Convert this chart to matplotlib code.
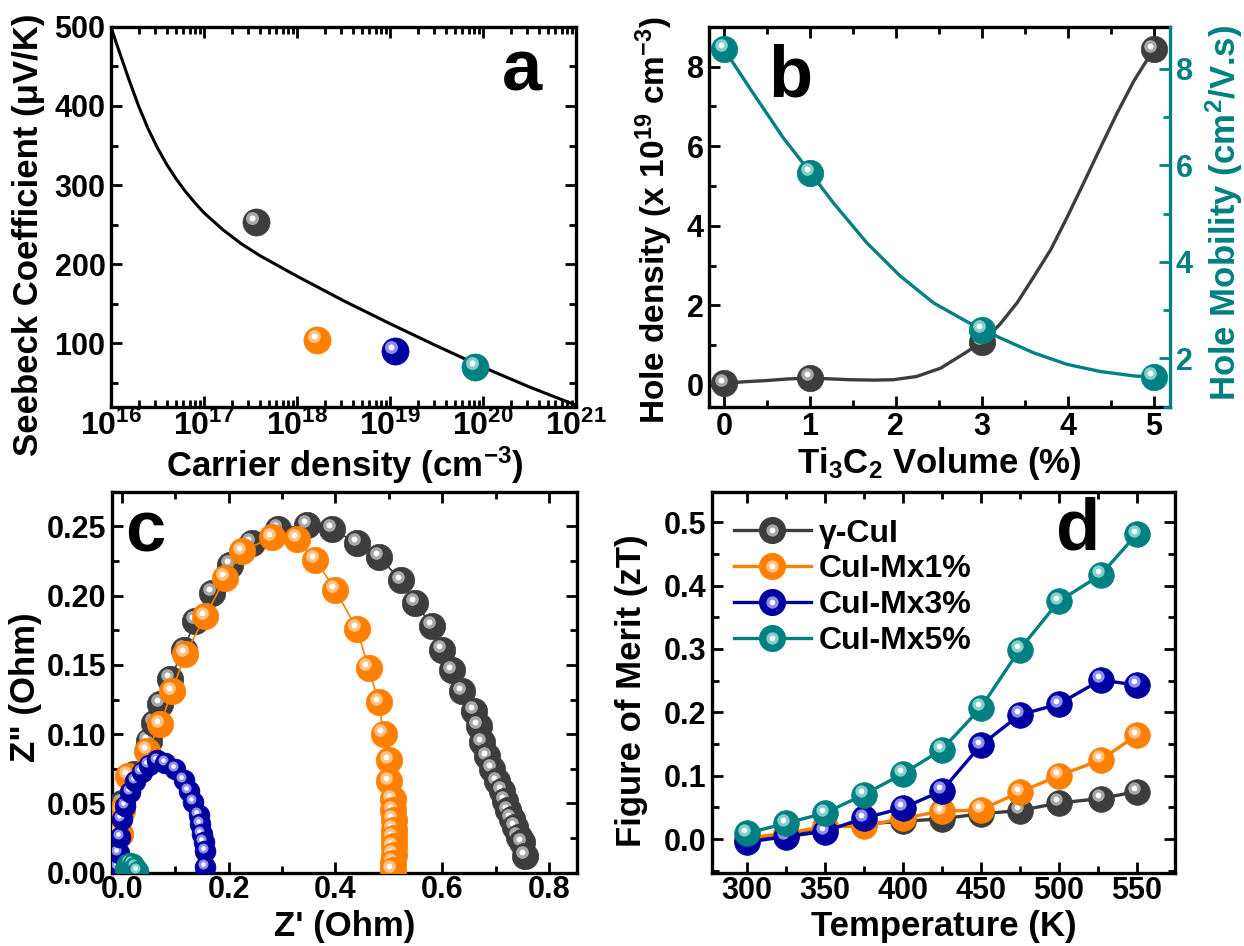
import matplotlib
matplotlib.use("Agg")
import matplotlib.pyplot as plt
from matplotlib.lines import Line2D
from matplotlib.legend_handler import HandlerTuple
from matplotlib.transforms import offset_copy
from matplotlib.ticker import MultipleLocator, LogLocator, NullFormatter, FixedLocator
import numpy as np

plt.rcParams['font.family'] = ['Liberation Sans', 'DejaVu Sans']
plt.rcParams['font.weight'] = 'bold'
plt.rcParams['axes.labelweight'] = 'bold'
plt.rcParams['mathtext.fontset'] = 'custom'
plt.rcParams['mathtext.rm'] = 'Liberation Sans:bold'
plt.rcParams['mathtext.bf'] = 'Liberation Sans:bold'
plt.rcParams['mathtext.it'] = 'Liberation Sans:bold:italic'
plt.rcParams['mathtext.default'] = 'bf'

GRAY, ORANGE, BLUE, TEAL = '#3d3d3d', '#ff8000', '#0000a0', '#008080'
HILITE = {GRAY: '#c4c4c4', ORANGE: '#ffd2a6', BLUE: '#b4b4ff', TEAL: '#a6e2e2'}

# ---- panel a : Seebeck vs carrier density ----
n_samples = [3.6e17, 1.65e18, 1.12e19, 8.3e19]
S_samples = [254, 104, 91, 70.5]
sample_colors = [GRAY, ORANGE, BLUE, TEAL]
# model curve (log10 of n, S)
curve_logn = [16.0, 16.05, 16.1, 16.2, 16.3, 16.4, 16.5, 16.6, 16.7, 16.8, 16.9,
              17.0, 17.2, 17.4, 17.6, 18.0, 18.5, 19.0, 19.5, 20.0, 20.5, 21.0]
curve_S = [500, 482, 465, 431, 399, 371, 347, 326, 308, 292, 278,
           265, 244, 226, 211, 185, 154, 125, 97, 70, 45, 22]

# ---- panel b : hole density / mobility vs Ti3C2 volume ----
vol = [0, 1, 3, 5]
hole_density = [0.04, 0.17, 1.09, 8.43]
hole_mobility = [8.41, 5.84, 2.60, 1.62]
dens_fit_x = [0, 0.25, 0.5, 0.75, 1.0, 1.25, 1.47, 1.75, 1.97, 2.24, 2.52, 2.79,
              3.01, 3.21, 3.41, 3.6, 3.8, 3.99, 4.18, 4.38, 4.57, 4.77, 5.0]
dens_fit_y = [0.04, 0.08, 0.11, 0.15, 0.17, 0.15, 0.13, 0.12, 0.13, 0.21, 0.42,
              0.78, 1.09, 1.52, 2.06, 2.70, 3.39, 4.20, 5.05, 5.96, 6.81, 7.64, 8.43]
mob_fit_x = [0, 0.30, 0.69, 1.01, 1.27, 1.66, 2.05, 2.44, 2.83, 3.01, 3.21, 3.6,
             3.99, 4.38, 4.77, 5.0]
mob_fit_y = [8.41, 7.60, 6.57, 5.84, 5.23, 4.40, 3.71, 3.15, 2.76, 2.60, 2.43,
             2.12, 1.88, 1.73, 1.64, 1.61]

# ---- panel c : Nyquist plots ----
zr_gray = [0.000, 0.022, 0.050, 0.060, 0.072, 0.090, 0.116, 0.137, 0.169, 0.203,
           0.243, 0.293, 0.347, 0.393, 0.440, 0.481, 0.523, 0.549, 0.581, 0.600,
           0.618, 0.637, 0.659, 0.668, 0.675, 0.684, 0.693, 0.703, 0.712, 0.718,
           0.724, 0.730, 0.737, 0.743, 0.749, 0.755]
zi_gray = [0.050, 0.071, 0.095, 0.108, 0.122, 0.140, 0.161, 0.182, 0.202, 0.222,
           0.238, 0.248, 0.251, 0.248, 0.238, 0.228, 0.211, 0.195, 0.178, 0.161,
           0.146, 0.131, 0.117, 0.106, 0.094, 0.084, 0.075, 0.066, 0.059, 0.052,
           0.045, 0.039, 0.033, 0.026, 0.022, 0.012]
zr_orange = [-0.004, 0.000, 0.012, 0.047, 0.072, 0.094, 0.119, 0.156, 0.194, 0.225,
             0.281, 0.328, 0.362, 0.400, 0.440, 0.462, 0.481, 0.490, 0.500, 0.500,
             0.507, 0.508, 0.509, 0.509, 0.509, 0.509, 0.509, 0.508, 0.507]
zi_orange = [0.028, 0.045, 0.070, 0.088, 0.107, 0.131, 0.158, 0.185, 0.213, 0.232,
             0.242, 0.241, 0.226, 0.204, 0.176, 0.148, 0.123, 0.100, 0.081, 0.066,
             0.053, 0.045, 0.038, 0.031, 0.025, 0.019, 0.013, 0.007, 0.002]
zr_blue = [-0.006, -0.006, -0.003, 0.000, 0.006, 0.016, 0.025, 0.037, 0.050, 0.066,
           0.081, 0.100, 0.116, 0.125, 0.134, 0.144, 0.147, 0.150, 0.153, 0.156, 0.156]
zi_blue = [0.004, 0.014, 0.026, 0.039, 0.048, 0.058, 0.066, 0.073, 0.078, 0.081,
           0.079, 0.075, 0.067, 0.059, 0.051, 0.042, 0.035, 0.028, 0.022, 0.016, 0.004]
zr_teal = [0.005, 0.010, 0.015, 0.020, 0.025, 0.030]
zi_teal = [0.003, 0.006, 0.007, 0.006, 0.004, 0.001]

# ---- panel d : zT vs temperature ----
temp = [300, 325, 350, 375, 400, 425, 450, 475, 500, 527, 550]
zt = {
    'γ-CuI':    [0.000, 0.007, 0.018, 0.024, 0.028, 0.032, 0.040, 0.045, 0.057, 0.064, 0.075],
    'CuI-Mx1%': [0.002, 0.009, 0.020, 0.020, 0.033, 0.044, 0.046, 0.074, 0.100, 0.125, 0.164],
    'CuI-Mx3%': [-0.005, 0.004, 0.012, 0.033, 0.049, 0.076, 0.148, 0.196, 0.213, 0.251, 0.243],
    'CuI-Mx5%': [0.009, 0.025, 0.041, 0.070, 0.103, 0.141, 0.207, 0.299, 0.375, 0.417, 0.481],
}
zt_colors = [GRAY, ORANGE, BLUE, TEAL]

TICK_FS = 22
LABEL_FS = 25


def balls(ax, x, y, color, ms, z=3):
    fig = ax.figure
    tr = offset_copy(ax.transData, fig=fig, x=-ms * 0.12, y=ms * 0.14, units='points')
    for i, (xi, yi) in enumerate(zip(x, y)):
        zz = z + i * 0.001
        ax.plot([xi], [yi], 'o', ms=ms, mfc=color, mec=color, mew=0.5, zorder=zz)
        ax.plot([xi], [yi], 'o', ms=ms * 0.48, mfc=HILITE[color], mec='none',
                alpha=0.8, transform=tr, zorder=zz + 0.0003)
        ax.plot([xi], [yi], 'o', ms=ms * 0.22, mfc='white', mec='none',
                transform=tr, zorder=zz + 0.0006)


def frame(ax, top=True, right=True):
    for s in ax.spines.values():
        s.set_linewidth(2.4)
    ax.tick_params(which='both', direction='in', width=2.0, top=top, right=right,
                   labelsize=TICK_FS, pad=4)
    ax.tick_params(which='major', length=8)
    ax.tick_params(which='minor', length=5)


fig = plt.figure(figsize=(12.44, 9.46), dpi=100)
axa = fig.add_axes([0.0892, 0.570, 0.3738, 0.4017])
axb = fig.add_axes([0.5702, 0.570, 0.3703, 0.4017])
axc = fig.add_axes([0.0898, 0.0775, 0.3743, 0.4027])
axd = fig.add_axes([0.5721, 0.0768, 0.3724, 0.4027])

# panel a
axa.plot(np.power(10.0, curve_logn), curve_S, color='black', lw=2.2, zorder=2)
for xn, ys, c in zip(n_samples, S_samples, sample_colors):
    balls(axa, [xn], [ys], c, 19.5)
axa.set_xscale('log')
axa.set_xlim(1e16, 1e21)
axa.set_ylim(20, 500)
axa.xaxis.set_major_locator(LogLocator(base=10, numticks=10))
axa.xaxis.set_minor_locator(LogLocator(base=10, subs=np.arange(2, 10), numticks=20))
axa.xaxis.set_minor_formatter(NullFormatter())
axa.yaxis.set_major_locator(MultipleLocator(100))
axa.yaxis.set_minor_locator(MultipleLocator(50))
frame(axa)
axa.tick_params(axis='x', which='major', labelsize=TICK_FS + 1, pad=3)
axa.set_ylabel('Seebeck Coefficient (μV/K)', fontsize=LABEL_FS)
axa.yaxis.set_label_coords(-0.142, 0.454)
axa.set_xlabel(r'Carrier density (cm$^{-3}$)', fontsize=LABEL_FS)
axa.xaxis.set_label_coords(0.503, -0.100)
axa.text(0.883, 0.833, 'a', transform=axa.transAxes, fontsize=52,
         fontweight='bold', ha='center', va='baseline')

# panel b
axb2 = axb.twinx()
axb.plot(dens_fit_x, dens_fit_y, color=GRAY, lw=2.4, zorder=2)
balls(axb, vol, hole_density, GRAY, 19)
axb2.plot(mob_fit_x, mob_fit_y, color=TEAL, lw=2.4, zorder=2)
balls(axb2, vol, hole_mobility, TEAL, 19)
axb.set_xlim(-0.17, 5.19)
axb.set_ylim(-0.55, 9.0)
axb2.set_ylim(1.0, 8.87)
axb.xaxis.set_major_locator(MultipleLocator(1))
axb.xaxis.set_minor_locator(MultipleLocator(0.5))
axb.yaxis.set_major_locator(MultipleLocator(2))
axb.yaxis.set_minor_locator(MultipleLocator(1))
axb2.yaxis.set_major_locator(FixedLocator([2, 4, 6, 8]))
axb2.yaxis.set_minor_locator(FixedLocator([1, 3, 5, 7]))
frame(axb, top=True, right=False)
axb.spines['right'].set_visible(False)
for s in axb2.spines.values():
    s.set_visible(False)
axb2.spines['right'].set_visible(True)
axb2.spines['right'].set_linewidth(2.4)
axb2.spines['right'].set_color(TEAL)
axb2.tick_params(which='both', direction='in', width=2.0, colors=TEAL,
                 labelsize=TICK_FS, pad=4)
axb2.tick_params(which='major', length=8)
axb2.tick_params(which='minor', length=5)
axb.set_ylabel(r'Hole density (x 10$^{19}$ cm$^{-3}$)', fontsize=24)
axb.yaxis.set_label_coords(-0.075, 0.49)
axb2.set_ylabel(r'Hole Mobility (cm$^{2}$/V.s)', fontsize=LABEL_FS, color=TEAL)
axb2.yaxis.set_label_coords(1.072, 0.51)
axb.set_xlabel(r'Ti$_{3}$C$_{2}$ Volume (%)', fontsize=LABEL_FS)
axb.xaxis.set_label_coords(0.5, -0.100)
axb.text(0.175, 0.816, 'b', transform=axb.transAxes, fontsize=52,
         fontweight='bold', ha='center', va='baseline')

# panel c
axc.plot(zr_gray, zi_gray, color=GRAY, lw=1.2, zorder=2)
balls(axc, zr_gray, zi_gray, GRAY, 19, z=3)
axc.plot(zr_orange, zi_orange, color=ORANGE, lw=1.2, zorder=4)
balls(axc, zr_orange, zi_orange, ORANGE, 19, z=5)
axc.plot(zr_blue, zi_blue, color=BLUE, lw=1.2, zorder=6)
balls(axc, zr_blue, zi_blue, BLUE, 15, z=7)
axc.plot(zr_teal, zi_teal, color=TEAL, lw=1.2, zorder=8)
balls(axc, zr_teal, zi_teal, TEAL, 15, z=9)
axc.set_xlim(-0.019, 0.853)
axc.set_ylim(0, 0.275)
axc.xaxis.set_major_locator(MultipleLocator(0.2))
axc.xaxis.set_minor_locator(MultipleLocator(0.1))
axc.yaxis.set_major_locator(MultipleLocator(0.05))
axc.yaxis.set_minor_locator(MultipleLocator(0.025))
axc.xaxis.set_major_formatter(lambda v, p: f'{v:.1f}')
axc.yaxis.set_major_formatter(lambda v, p: f'{v:.2f}')
frame(axc)
axc.tick_params(axis='x', pad=2)
axc.set_ylabel('Z" (Ohm)', fontsize=LABEL_FS)
axc.yaxis.set_label_coords(-0.150, 0.487)
axc.set_xlabel("Z' (Ohm)", fontsize=LABEL_FS)
axc.xaxis.set_label_coords(0.5, -0.097)
axc.text(0.073, 0.843, 'c', transform=axc.transAxes, fontsize=52,
         fontweight='bold', ha='center', va='baseline', zorder=20)

# panel d
handles = []
for k, (lab, vals) in enumerate(zt.items()):
    c = zt_colors[k]
    axd.plot(temp, vals, color=c, lw=2.4, zorder=2 + 2 * k)
    balls(axd, temp, vals, c, 18.5, z=3 + 2 * k)
    h = (Line2D([], [], color=c, lw=2.4, marker='o', ms=18.5, mfc=c, mec=c),
         Line2D([], [], ls='none', marker='o', ms=18.5 * 0.48, mfc=HILITE[c], mec='none',
                alpha=0.8),
         Line2D([], [], ls='none', marker='o', ms=18.5 * 0.22, mfc='white', mec='none'))
    handles.append(h)
axd.set_xlim(277.5, 574.6)
axd.set_ylim(-0.054, 0.547)
axd.xaxis.set_major_locator(MultipleLocator(50))
axd.xaxis.set_minor_locator(MultipleLocator(25))
axd.yaxis.set_major_locator(MultipleLocator(0.1))
axd.yaxis.set_minor_locator(MultipleLocator(0.05))
axd.yaxis.set_major_formatter(lambda v, p: f'{v:.1f}')
frame(axd)
axd.tick_params(axis='x', pad=2)
axd.legend(handles, list(zt.keys()), handler_map={tuple: HandlerTuple(ndivide=1)},
           loc='upper left', bbox_to_anchor=(0.0, 0.99), frameon=False,
           fontsize=23, handlelength=2.4, labelspacing=0.18, handletextpad=0.25,
           borderaxespad=0.3)
axd.set_ylabel('Figure of Merit (zT)', fontsize=LABEL_FS)
axd.yaxis.set_label_coords(-0.138, 0.48)
axd.set_xlabel('Temperature (K)', fontsize=LABEL_FS)
axd.xaxis.set_label_coords(0.5, -0.097)
axd.text(0.791, 0.849, 'd', transform=axd.transAxes, fontsize=52,
         fontweight='bold', ha='center', va='baseline')

fig.savefig('out.png', dpi=100)
